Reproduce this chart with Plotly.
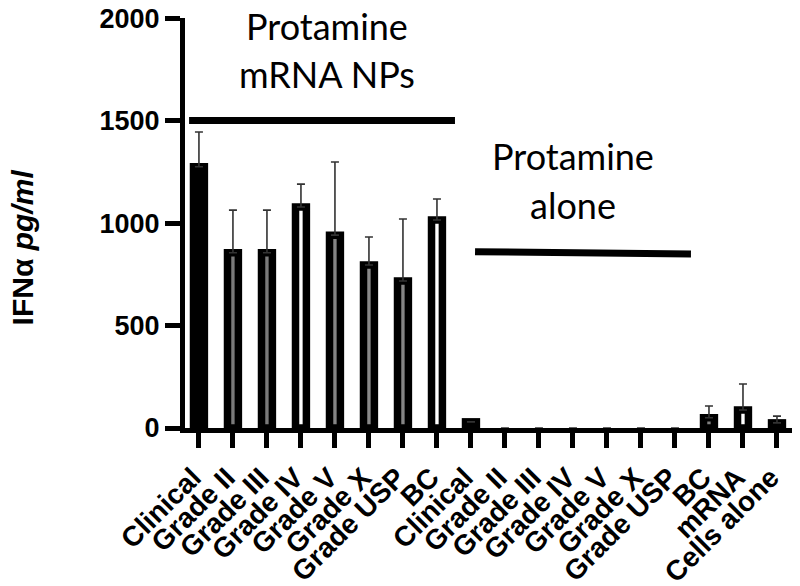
import plotly.graph_objects as go

categories = ["Clinical", "Grade II", "Grade III", "Grade IV", "Grade V", "Grade X",
              "Grade USP", "BC", "Clinical", "Grade II", "Grade III", "Grade IV",
              "Grade V", "Grade X", "Grade USP", "BC", "mRNA", "Cells alone"]
values = [1275, 855, 855, 1078, 941, 795, 717, 1015,
          30, 0, 0, 0, 0, 0, 0, 50, 88, 25]
err_up = [169, 208, 208, 112, 357, 137, 303, 102,
          0, 0, 0, 0, 0, 0, 0, 57, 127, 33]
fills = ["#000000", "#7a7a7a", "#7a7a7a", "#ffffff", "#858585", "#8a8a8a", "#858585", "#ffffff",
         "#000000", "#000000", "#000000", "#000000", "#000000", "#000000", "#000000", "#808080", "#ffffff", "#555555"]

group_lines = [
    {"x": [-0.29, 7.53], "y": [1500, 1500]},
    {"x": [8.12, 14.47], "y": [860, 849]},
]
group_labels = [
    {"x": 3.76, "lines": [("Protamine", 1960), ("mRNA NPs", 1727)]},
    {"x": 11.0, "lines": [("Protamine", 1329), ("alone", 1088)]},
]
yticks = [0, 500, 1000, 1500, 2000]

idx = list(range(len(categories)))
line_w = [7.5 if v > 0 else 0 for v in values]

fig = go.Figure()
fig.add_trace(go.Bar(
    x=idx, y=values, width=0.32,
    marker=dict(color=fills, line=dict(color="black", width=line_w)),
    error_y=dict(type="data", array=err_up, arrayminus=[0] * len(err_up), symmetric=False,
                 color="#333333", thickness=1.6, width=4),
    showlegend=False,
))
for gl in group_lines:
    fig.add_trace(go.Scatter(x=gl["x"], y=gl["y"], mode="lines",
                             line=dict(color="black", width=7), showlegend=False,
                             hoverinfo="skip"))

annotations = []
for g in group_labels:
    for txt, yv in g["lines"]:
        annotations.append(dict(x=g["x"], y=yv, xref="x", yref="y", text=txt, showarrow=False,
                                xanchor="center", yanchor="middle",
                                font=dict(family="Lato", size=36, color="black")))
annotations.append(dict(x=-0.266, y=880, xref="paper", yref="y", textangle=-90,
                        text="<b>IFNα <i>pg/ml</i></b>", showarrow=False,
                        xanchor="center", yanchor="middle",
                        font=dict(family="Liberation Sans", size=30, color="black")))

fig.update_layout(
    width=792, height=578,
    margin=dict(l=177, r=5, t=10, b=158),
    plot_bgcolor="white", paper_bgcolor="white",
    annotations=annotations,
    xaxis=dict(range=[-0.41, 17.53], tickmode="array", tickvals=idx, ticktext=categories,
               tickangle=-45, ticks="outside", ticklen=15, tickwidth=5, tickcolor="black",
               showline=True, linewidth=5, linecolor="black", showgrid=False, zeroline=False,
               tickfont=dict(family="Liberation Sans", size=28, color="black", weight="bold"),
               ticklabelshift=-6, ticklabelstandoff=2,
               automargin=False),
    yaxis=dict(range=[0, 2000.5], tickmode="array", tickvals=yticks, ticks="outside",
               ticklen=15, tickwidth=5, ticklabeloverflow="allow",
               tickcolor="black", showline=True, linewidth=5, linecolor="black",
               showgrid=False, zeroline=False,
               tickfont=dict(family="Liberation Sans", size=27, color="black", weight="bold"),
               automargin=False),
)

fig.write_html("out.html")
